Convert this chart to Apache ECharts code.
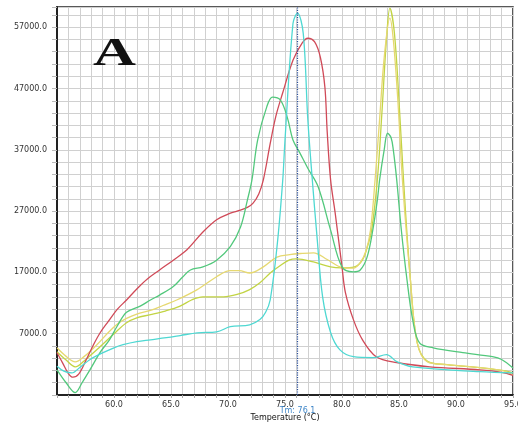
<!DOCTYPE html>
<html><head><meta charset="utf-8">
<script src="https://cdn.jsdelivr.net/npm/echarts@6/dist/echarts.min.js"></script>
<style>html,body{margin:0;padding:0;background:#fff}#c{width:518px;height:425px}</style>
</head><body><div id="c"></div>
<script>
// Temperature range and ticks
const xMin = 55, xMax = 95, xStep = 1, xLabelStep = 5;
const yMin = -3000, yMax = 60300, yStep = 2000;
const yLabelValues = [7000, 17000, 27000, 37000, 47000, 57000];
const tmValue = 76.1;

// Melt curves: [temperature, fluorescence derivative]
const redCurve = [[55.0,3900],[55.5,2200],[56.0,500],[56.4,-100],[56.9,400],[57.5,2500],[58.2,5200],[58.8,7200],[59.5,9000],[60.3,11000],[61.1,12500],[62.0,14300],[62.9,15900],[64.0,17400],[65.2,19000],[66.4,20700],[67.8,23600],[69.0,25600],[70.0,26500],[70.8,27000],[71.7,27600],[72.2,28300],[72.7,29800],[73.1,32100],[73.7,38000],[74.2,42500],[74.8,46300],[75.7,51600],[76.5,54400],[77.0,55200],[77.6,54600],[78.1,52100],[78.5,47200],[78.7,40000],[79.0,32100],[79.4,26700],[80.0,17900],[80.3,13700],[81.0,9300],[81.8,6000],[83.0,3250],[84.8,2300],[87.7,1600],[92.1,1100],[94.0,700],[95.0,200]];
const cyanCurve = [[55.0,1700],[55.6,900],[56.3,600],[57.0,1500],[57.9,2800],[58.8,3700],[60.0,4700],[60.8,5200],[62.0,5700],[63.2,6000],[64.6,6350],[65.8,6700],[67.3,7150],[69.0,7300],[70.2,8150],[71.9,8450],[72.8,9300],[73.3,10500],[73.7,12500],[74.3,21200],[74.8,32000],[75.0,38600],[75.7,57600],[76.1,59300],[76.6,56000],[77.0,42000],[77.4,32000],[77.8,23000],[78.3,13000],[79.0,7200],[79.8,4400],[81.0,3250],[82.7,3100],[83.9,3600],[84.8,2450],[86.2,1600],[92.1,800],[95.0,600]];
const greenCurve = [[55.0,1100],[55.8,-1000],[56.6,-2600],[57.2,-1000],[57.9,1140],[58.8,4000],[59.6,6000],[60.3,8300],[61.1,10500],[62.3,11500],[63.2,12500],[64.0,13300],[65.2,14700],[66.0,16200],[66.7,17400],[67.8,17900],[69.0,19000],[70.2,21200],[71.1,24400],[71.7,28800],[72.1,32100],[72.6,38600],[73.4,44000],[73.9,45600],[74.6,45100],[75.2,42300],[75.7,38600],[76.3,36500],[77.0,34000],[77.9,31000],[79.0,23900],[80.0,17900],[81.0,17100],[81.6,17400],[82.2,19500],[82.7,23900],[83.1,28800],[83.3,32100],[83.7,37000],[84.0,39700],[84.3,39000],[84.5,37000],[84.8,32100],[85.2,24000],[85.7,15800],[86.2,9300],[86.8,5500],[88.0,4700],[90.6,3900],[93.2,3250],[94.0,2800],[95.0,1400]];
const yellowCurve = [[55.0,4700],[55.8,3300],[56.6,2400],[57.4,3300],[58.5,5200],[59.5,7200],[60.3,8600],[61.1,9500],[62.0,10200],[63.2,10800],[64.3,11600],[65.5,12500],[67.3,14200],[69.0,16300],[70.2,17300],[71.0,17300],[71.9,16900],[73.1,17900],[74.3,19500],[75.4,19900],[76.5,20100],[77.5,20200],[78.7,19100],[80.0,17800],[81.0,17700],[81.6,18600],[82.1,20500],[82.5,23900],[82.9,32100],[83.3,42000],[83.7,52000],[84.2,58500],[84.5,55000],[84.9,45000],[85.3,32100],[86.0,15800],[86.6,5500],[87.5,2400],[89.2,1950],[92.1,1460],[94.0,1000],[95.0,300]];
const oliveCurve = [[55.0,4070],[55.8,2700],[56.6,1600],[57.4,2600],[58.8,4900],[60.0,7000],[61.1,8800],[62.0,9600],[63.2,10100],[64.5,10700],[65.8,11500],[66.8,12500],[67.8,13000],[69.6,13000],[70.8,13400],[71.9,14200],[72.8,15300],[73.7,16900],[74.5,18000],[75.4,19050],[76.0,19200],[77.5,18700],[79.0,17900],[80.0,17750],[81.1,17900],[81.8,19050],[82.2,21000],[82.6,23900],[83.1,32100],[83.5,43000],[83.9,55000],[84.2,60100],[84.6,56000],[85.0,45000],[85.4,32000],[86.0,15800],[86.6,5500],[87.5,2500],[89.2,1950],[92.1,1460],[94.0,1000],[95.0,650]];

const chart = echarts.init(document.getElementById('c'), null, {renderer:'canvas'});
const font = 'DejaVu Sans';
function curve(data, color) {
  return {type:'line', data:data, smooth:0.35, showSymbol:false, symbol:'none',
    lineStyle:{color:color, width:1.3}, z:3};
}
const series = [
  curve(oliveCurve, '#c2d444'),
  curve(yellowCurve, '#e6d870'),
  curve(redCurve, '#d04a58'),
  curve(greenCurve, '#52c87c'),
  curve(cyanCurve, '#4ed8d2')
];
series.push({type:'line', data:[], markLine:{silent:true, symbol:'none',
  lineStyle:{color:'#2a4f9a', type:'dotted', width:1.2},
  label:{show:true, position:'start', distance:12, formatter:'Tm: ' + tmValue.toFixed(1), color:'#3f86c8', fontSize:8, fontFamily:font},
  data:[{xAxis:tmValue}]}});

chart.setOption({
  animation:false,
  backgroundColor:'#fff',
  grid:{left:57, right:5, top:7, bottom:30, outerBoundsMode:'none', containLabel:false, show:true, borderColor:'#222', borderWidth:1.5, backgroundColor:'transparent'},
  xAxis:{type:'value', min:xMin, max:xMax, interval:xStep,
    name:'Temperature (°C)', nameLocation:'middle', nameGap:19,
    nameTextStyle:{fontFamily:font, fontSize:8, color:'#111'},
    axisLine:{onZero:false, lineStyle:{color:'#222', width:2}},
    axisTick:{show:true, length:3, lineStyle:{color:'#aaa'}},
    splitLine:{show:true, lineStyle:{color:'#d0d0d0', width:1}},
    axisLabel:{fontFamily:font, fontSize:8, color:'#333', margin:6, showMinLabel:true, showMaxLabel:true, hideOverlap:false,
      formatter:function(v){ return (Math.abs(v % xLabelStep) < 1e-6 && v > xMin) ? v.toFixed(1) : ''; }}
  },
  yAxis:{type:'value', min:yMin, max:yMax, interval:yStep,
    axisLine:{show:true, onZero:false, lineStyle:{color:'#222', width:2}},
    axisTick:{show:true, length:5, lineStyle:{color:'#bbb'}},
    splitLine:{show:true, lineStyle:{color:'#d0d0d0', width:1}},
    axisLabel:{fontFamily:font, fontSize:8, color:'#333', margin:10,
      formatter:function(v){ return yLabelValues.indexOf(Math.round(v)) >= 0 ? v.toFixed(1) : ''; }}
  },
  graphic:[{type:'text', left:93, top:34, z:10,
    style:{text:'A', fontFamily:'Liberation Serif', fontWeight:'bold', fontSize:41, fill:'#111'},
    scaleX:1.45}],
  series:series
});
</script></body></html>
